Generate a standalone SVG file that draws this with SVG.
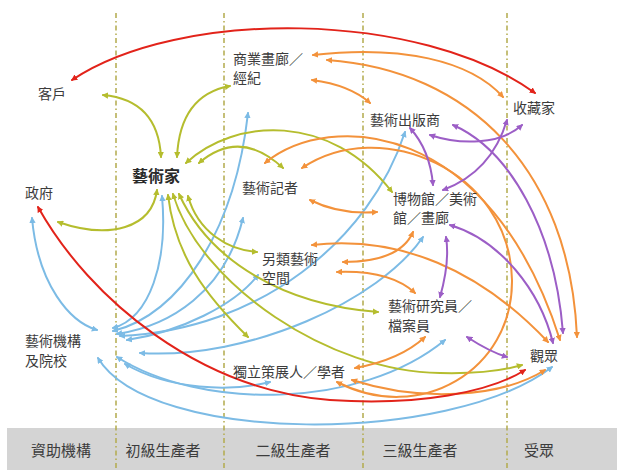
<svg xmlns="http://www.w3.org/2000/svg" width="617" height="470" viewBox="0 0 617 470">
<style>
text{font-family:"Noto Sans CJK TC","Noto Sans CJK SC",sans-serif;font-size:14px;fill:#3c3c3c}
.b{font-weight:bold;font-size:16px;fill:#2a2a2a}
.t{font-size:15px}
.d{stroke:#b3aa4c;stroke-width:1.5;stroke-dasharray:5 3 1.5 3;fill:none}
.c path{fill:none;stroke-width:2;stroke-linecap:round}
.r{stroke:#e2231a;marker-start:url(#mr);marker-end:url(#mr)}
.y{stroke:#b5bd2e;marker-start:url(#my);marker-end:url(#my)}
.u{stroke:#7cbbe5;marker-start:url(#mu);marker-end:url(#mu)}
.o{stroke:#f3923b;marker-start:url(#mo);marker-end:url(#mo)}
.p{stroke:#9c5ec6;marker-start:url(#mp);marker-end:url(#mp)}
</style>
<defs>
<marker id="mr" viewBox="0 0 10 10" refX="8" refY="5" markerWidth="3.2" markerHeight="3.2" orient="auto-start-reverse"><path d="M0,0L10,5L0,10z" fill="#e2231a"/></marker>
<marker id="my" viewBox="0 0 10 10" refX="8" refY="5" markerWidth="3.2" markerHeight="3.2" orient="auto-start-reverse"><path d="M0,0L10,5L0,10z" fill="#b5bd2e"/></marker>
<marker id="mu" viewBox="0 0 10 10" refX="8" refY="5" markerWidth="3.2" markerHeight="3.2" orient="auto-start-reverse"><path d="M0,0L10,5L0,10z" fill="#7cbbe5"/></marker>
<marker id="mo" viewBox="0 0 10 10" refX="8" refY="5" markerWidth="3.2" markerHeight="3.2" orient="auto-start-reverse"><path d="M0,0L10,5L0,10z" fill="#f3923b"/></marker>
<marker id="mp" viewBox="0 0 10 10" refX="8" refY="5" markerWidth="3.2" markerHeight="3.2" orient="auto-start-reverse"><path d="M0,0L10,5L0,10z" fill="#9c5ec6"/></marker>
</defs>
<rect x="0" y="0" width="617" height="470" fill="#ffffff"/>
<g id="band">
<rect x="7" y="428" width="610" height="42" fill="#d4d4d4"/>
<text class="t" x="61" y="456" text-anchor="middle">資助機構</text>
<text class="t" x="163" y="456" text-anchor="middle">初級生產者</text>
<text class="t" x="293" y="456" text-anchor="middle">二級生產者</text>
<text class="t" x="420" y="456" text-anchor="middle">三級生產者</text>
<text class="t" x="539" y="456" text-anchor="middle">受眾</text>
</g>
<g id="dividers">
<line class="d" x1="116" y1="13" x2="116" y2="470"/>
<line class="d" x1="224" y1="13" x2="224" y2="470"/>
<line class="d" x1="363" y1="13" x2="363" y2="470"/>
<line class="d" x1="507" y1="13" x2="507" y2="470"/>
</g>
<g id="connectors" class="c">
<path class="u" d="M32,218 C38,285 70,322 97,330"/>
<path class="u" d="M162,196 C168,262 150,318 113,328"/>
<path class="u" d="M248,113 C235,230 180,315 113,331"/>
<path class="u" d="M243,218 C225,292 170,326 117,334"/>
<path class="u" d="M405,132 C370,240 260,330 120,336"/>
<path class="u" d="M258,275 C235,305 180,332 127,340"/>
<path class="u" d="M423,237 C380,300 250,360 140,353"/>
<path class="u" d="M117,357 C200,410 360,410 445,340"/>
<path class="u" d="M125,364 C170,390 230,392 270,382"/>
<path class="u" d="M98,358 C150,445 450,445 552,367"/>
<path class="y" d="M103,95 Q158,100 161,157"/>
<path class="y" d="M230,86 Q180,95 177,157"/>
<path class="y" d="M186,163 C235,118 330,112 392,192"/>
<path class="y" d="M199,163 Q240,128 283,168"/>
<path class="y" d="M157,190 C152,228 110,240 58,222"/>
<path class="y" d="M188,196 C198,232 228,250 257,252"/>
<path class="y" d="M168,195 C175,255 205,295 248,337"/>
<path class="y" d="M173,194 C200,285 330,372 440,373 C480,374 505,370 522,365"/>
<path class="y" d="M179,194 C210,262 285,305 378,312"/>
<path class="o" d="M313,55 C400,45 470,60 503,97"/>
<path class="o" d="M327,60 C470,70 570,170 577,337"/>
<path class="o" d="M312,80 Q350,85 370,103"/>
<path class="o" d="M265,163 C330,110 490,120 560,340"/>
<path class="o" d="M302,168 C380,115 510,170 512,280 C513,370 420,425 337,382"/>
<path class="o" d="M310,200 Q340,215 377,212"/>
<path class="o" d="M343,262 Q400,262 413,232"/>
<path class="o" d="M337,272 Q390,270 415,293"/>
<path class="o" d="M312,245 C400,235 480,270 548,342"/>
<path class="o" d="M355,368 Q400,360 425,337"/>
<path class="o" d="M352,380 C420,402 500,398 545,370"/>
<path class="p" d="M410,128 Q430,150 433,185"/>
<path class="p" d="M507,120 C495,160 470,180 443,190"/>
<path class="p" d="M430,135 C460,145 500,145 522,125"/>
<path class="p" d="M453,125 C510,150 555,230 563,333"/>
<path class="p" d="M450,225 C500,240 540,290 553,343"/>
<path class="p" d="M440,297 Q450,262 446,237"/>
<path class="p" d="M467,337 Q490,352 507,357"/>
<path class="r" d="M72,80 C180,8 420,10 535,93"/>
<path class="r" d="M38,207 C90,300 200,390 330,400 C420,406 490,392 525,370"/>
</g>
<g id="n-client"><text x="38" y="99">客戶</text></g>
<g id="n-artist"><text class="b" x="132" y="182">藝術家</text></g>
<g id="n-gov"><text x="25" y="198">政府</text></g>
<g id="n-gallery"><text x="233" y="64">商業畫廊／</text><text x="233" y="83">經紀</text></g>
<g id="n-journalist"><text x="242" y="193">藝術記者</text></g>
<g id="n-collector"><text x="513" y="113">收藏家</text></g>
<g id="n-publisher"><text x="370" y="125">藝術出版商</text></g>
<g id="n-museum"><text x="393" y="204">博物館／美術</text><text x="393" y="223">館／畫廊</text></g>
<g id="n-alt"><text x="262" y="264">另類藝術</text><text x="262" y="283">空間</text></g>
<g id="n-researcher"><text x="388" y="311">藝術研究員／</text><text x="388" y="331">檔案員</text></g>
<g id="n-audience"><text x="530" y="361">觀眾</text></g>
<g id="n-curator"><text x="233" y="377">獨立策展人／學者</text></g>
<g id="n-inst"><text x="25" y="346">藝術機構</text><text x="25" y="366">及院校</text></g>
</svg>
